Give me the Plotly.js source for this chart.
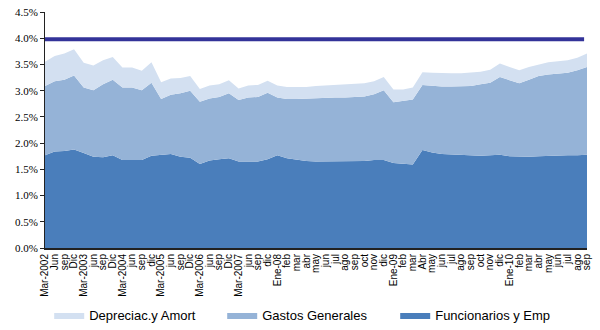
<!DOCTYPE html>
<html>
<head>
<meta charset="utf-8">
<script src="https://cdn.plot.ly/plotly-3.0.1.min.js"></script>
<style>
html,body{margin:0;padding:0;background:#fff;}
#chart{width:600px;height:330px;}
</style>
</head>
<body>
<div id="chart"></div>
<script>
const periods = ["Mar-2002","Jun","sep","Dic","Mar-2003","jun","sep","Dic","Mar-2004","jun","sep","dic",
  "Mar-2005","jun","sep","Dic","Mar-2006","jun","sep","Dic","Mar-2007","jun","sep","dic",
  "Ene-08","feb","mar","abr","may","jun","jul","ago","sep","oct","nov","dic",
  "Ene-09","feb","mar","Abr","may","jun","jul","ago","sep","oct","nov","dic",
  "Ene-10","feb","mar","abr","may","jun","jul","ago","sep"];

const funcionarios = [1.77,1.84,1.85,1.88,1.81,1.74,1.73,1.77,1.68,1.68,1.68,1.76,
  1.77,1.79,1.74,1.72,1.60,1.67,1.69,1.71,1.65,1.65,1.65,1.69,
  1.77,1.71,1.68,1.66,1.65,1.65,1.65,1.65,1.65,1.66,1.68,1.68,
  1.62,1.60,1.59,1.87,1.82,1.79,1.78,1.77,1.76,1.76,1.77,1.78,
  1.75,1.74,1.74,1.75,1.76,1.76,1.77,1.77,1.78];

const gastos = [1.32,1.34,1.36,1.41,1.25,1.27,1.39,1.44,1.38,1.38,1.33,1.39,
  1.07,1.13,1.21,1.28,1.19,1.18,1.19,1.24,1.17,1.22,1.23,1.27,
  1.10,1.13,1.16,1.19,1.21,1.22,1.22,1.22,1.23,1.23,1.25,1.33,
  1.16,1.20,1.24,1.24,1.27,1.29,1.30,1.31,1.33,1.36,1.38,1.48,
  1.45,1.40,1.47,1.53,1.55,1.57,1.57,1.62,1.67];

const depreciac = [0.46,0.48,0.50,0.50,0.47,0.47,0.46,0.43,0.38,0.38,0.37,0.39,
  0.32,0.31,0.29,0.28,0.24,0.25,0.24,0.25,0.22,0.23,0.23,0.23,
  0.23,0.23,0.23,0.22,0.23,0.23,0.23,0.24,0.24,0.25,0.25,0.25,
  0.24,0.22,0.23,0.24,0.25,0.25,0.25,0.25,0.25,0.24,0.25,0.26,
  0.25,0.25,0.24,0.22,0.23,0.23,0.24,0.24,0.26];

const limite = 3.98;

const idx = periods.map((_, i) => i);
const limitLine = periods.map(() => limite);

const traces = [
  {x: idx, y: funcionarios, name: "Funcionarios y Emp", type: "scatter", mode: "lines",
   stackgroup: "one", line: {width: 0, color: "#4a7ebb"}, fillcolor: "#4a7ebb"},
  {x: idx, y: gastos, name: "Gastos Generales", type: "scatter", mode: "lines",
   stackgroup: "one", line: {width: 0, color: "#95b3d7"}, fillcolor: "#95b3d7"},
  {x: idx, y: depreciac, name: "Depreciac.y Amort", type: "scatter", mode: "lines",
   stackgroup: "one", line: {width: 0, color: "#d3e0f1"}, fillcolor: "#d3e0f1"},
  {x: idx.slice(0, -1).concat([idx.length - 1.3]), y: limitLine, name: "Límite", type: "scatter", mode: "lines",
   line: {width: 4, color: "#333399"}, showlegend: false}
];

const layout = {
  width: 600, height: 330,
  margin: {l: 45, r: 13, t: 12, b: 82, autoexpand: false},
  paper_bgcolor: "#fff", plot_bgcolor: "#fff",
  showlegend: true,
  legend: {orientation: "h", x: 0.082, xref: "container", xanchor: "left",
    y: -0.012, yref: "container", yanchor: "bottom", bgcolor: "rgba(0,0,0,0)",
    traceorder: "reversed", font: {family: "'Liberation Sans', Arial, sans-serif", size: 13, color: "#000"},
    itemwidth: 30, entrywidth: 128, entrywidthmode: "pixels"},
  xaxis: {
    range: [0, periods.length - 1],
    tickmode: "array", tickvals: idx, ticktext: periods,
    tickangle: -90, tickfont: {family: "'Liberation Sans', Arial, sans-serif", size: 10, color: "#000"},
    showgrid: false, zeroline: false, showline: true, linecolor: "#222", linewidth: 2,
    ticks: "", fixedrange: true, automargin: false
  },
  yaxis: {
    range: [0, 4.5], dtick: 0.5, tickformat: ".1f", ticksuffix: "%",
    tickfont: {family: "'Liberation Serif', 'Times New Roman', serif", size: 11, color: "#000"},
    showgrid: false, zeroline: false, showline: true, linecolor: "#222", linewidth: 1,
    ticks: "outside", ticklen: 4, tickcolor: "#222", fixedrange: true, automargin: false
  }
};

Plotly.newPlot("chart", traces, layout, {displayModeBar: false, staticPlot: true});
</script>
</body>
</html>
